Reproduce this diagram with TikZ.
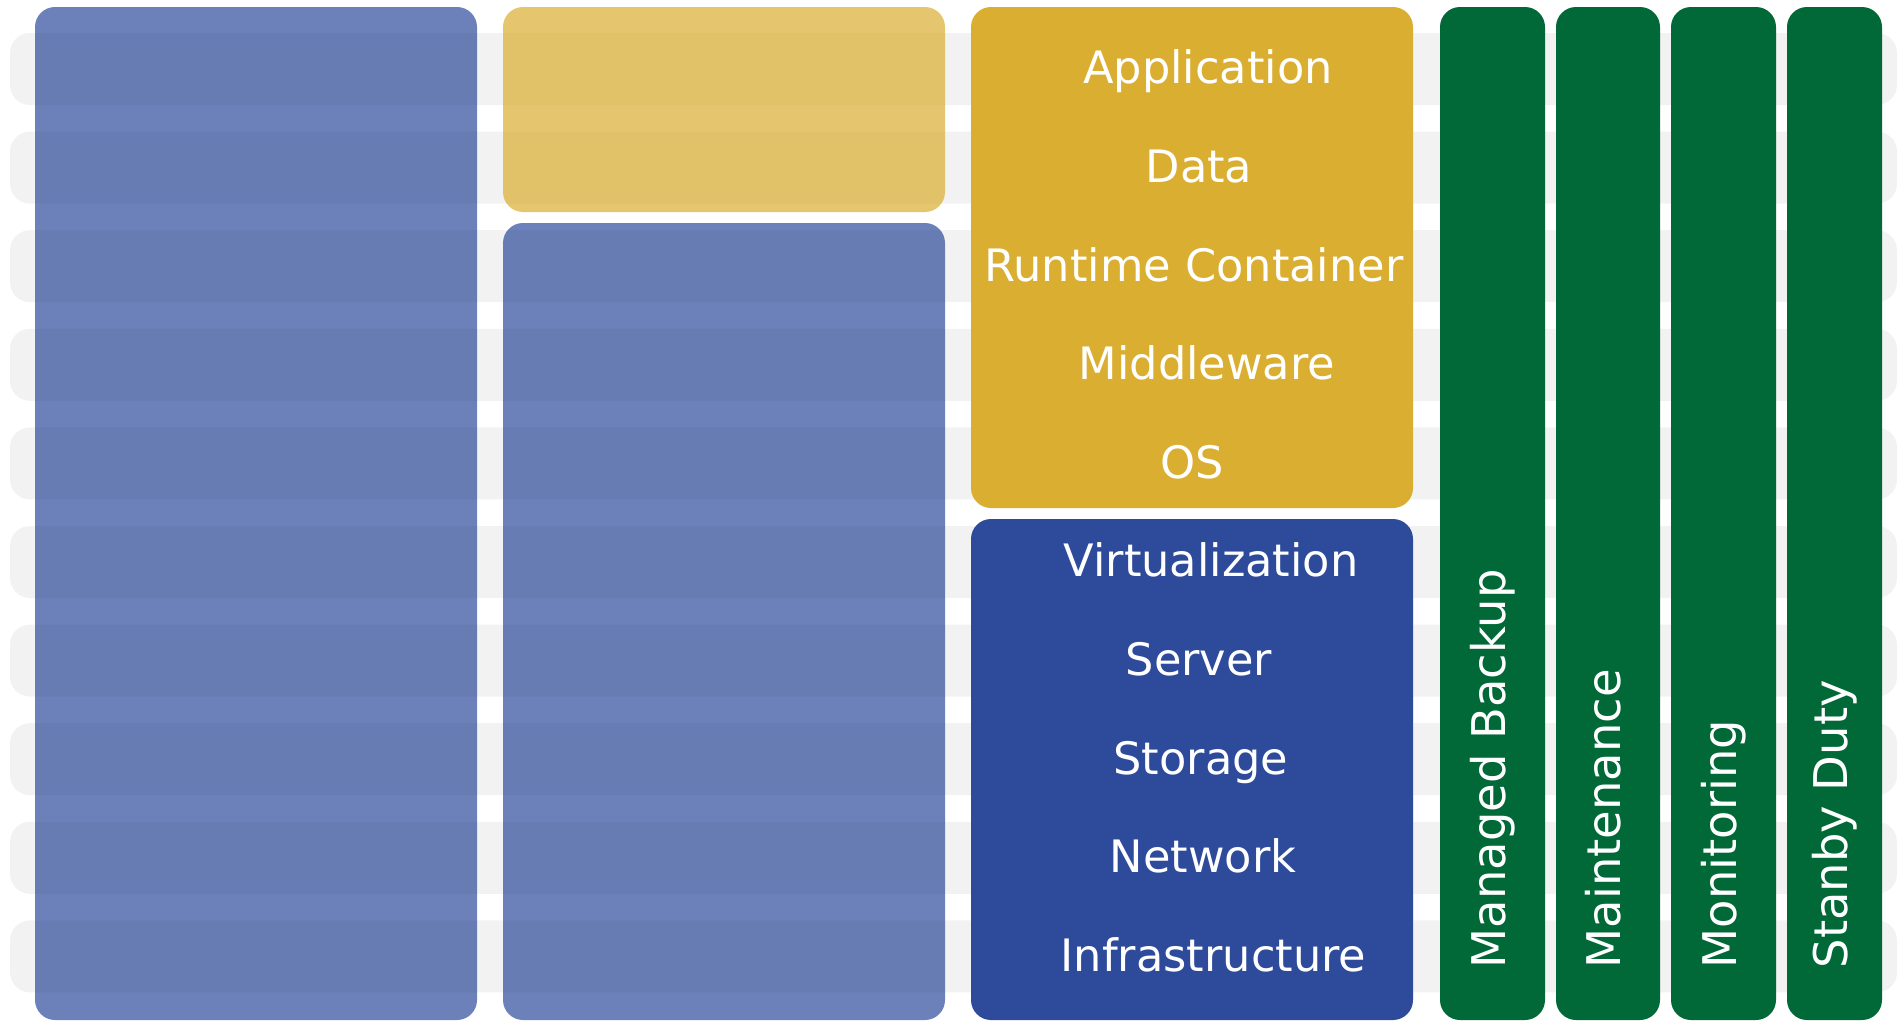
\documentclass[tikz,border=0pt]{standalone}
\usepackage{fontspec}
\setmainfont{DejaVu Sans}
\usepackage{tikz}
\definecolor{rowgray}{HTML}{F2F2F2}
\definecolor{stackblue}{HTML}{2E4B9B}
\definecolor{stackyellow}{HTML}{DAAE30}
\definecolor{stackgreen}{HTML}{006937}
\tikzset{
	% Styles for the service stack: bands, boxes and labels
	row band/.style={fill=rowgray,rounded corners=0.2cm},
	stack box/.style={rounded corners=0.2cm},
	faded box/.style={stack box,fill opacity=0.7},
	layer label/.style={text=white,inner sep=0,text height=0.73em,text depth=0pt,font=\fontsize{12.7}{15}\selectfont},
	duty label/.style={layer label,rotate=90,anchor=west,font=\fontsize{13.2}{16}\selectfont}
}

\begin{document}
\begin{tikzpicture}[x=0.01cm,y=-0.01cm]
				% macro for one grey band behind a row
				\newcommand{\band}[1]{\fill[row band](10,#1)rectangle(1897,#1+72);}
				% macro for inputing layer names
				\newcommand{\stacklayer}[3]{\node(#1)[layer label]at(#2){#3};}
				\newcommand{\dutylabel}[3]{\node(#1)[duty label]at(#2){#3};}
				\useasboundingbox(0,0)rectangle(1899,1021);
				
				\band{33}
				\band{131.6}
				\band{230.2}
				\band{328.8}
				\band{427.4}
				\band{526}
				\band{624.6}
				\band{723.2}
				\band{821.8}
				\band{920.4}
				
				% first two columns
				\fill[faded box,fill=stackblue](35,7)rectangle(477,1020);
				\fill[faded box,fill=stackyellow](503,7)rectangle(945,212);
				\fill[faded box,fill=stackblue](503,223)rectangle(945,1020);
				% third column
				\fill[stack box,fill=stackyellow](971,7)rectangle(1413,508);
				\fill[stack box,fill=stackblue](971,519)rectangle(1413,1020);
				% green columns
				\fill[stack box,fill=stackgreen](1440,7)rectangle(1545,1020);
				\fill[stack box,fill=stackgreen](1556,7)rectangle(1660,1020);
				\fill[stack box,fill=stackgreen](1671,7)rectangle(1776,1020);
				\fill[stack box,fill=stackgreen](1787,7)rectangle(1882,1020);
				
				\stacklayer{app}{1208,71}{Application}
				\stacklayer{data}{1199,169.6}{Data}
				\stacklayer{runtime}{1194,268.2}{Runtime Container}
				\stacklayer{middleware}{1207,366.8}{Middleware}
				\stacklayer{os}{1192,465.4}{OS}
				\stacklayer{virt}{1211,564}{Virtualization}
				\stacklayer{server}{1199,662.6}{Server}
				\stacklayer{storage}{1201,761.2}{Storage}
				\stacklayer{network}{1203,859.8}{Network}
				\stacklayer{infra}{1213.5,958.4}{Infrastructure}
				
				\dutylabel{backup}{1492.5,969}{Managed Backup}
				\dutylabel{maint}{1608,969}{Maintenance}
				\dutylabel{monitor}{1723.5,969}{Monitoring}
				\dutylabel{standby}{1834.5,969}{Stanby Duty}
			\end{tikzpicture}
\end{document}
